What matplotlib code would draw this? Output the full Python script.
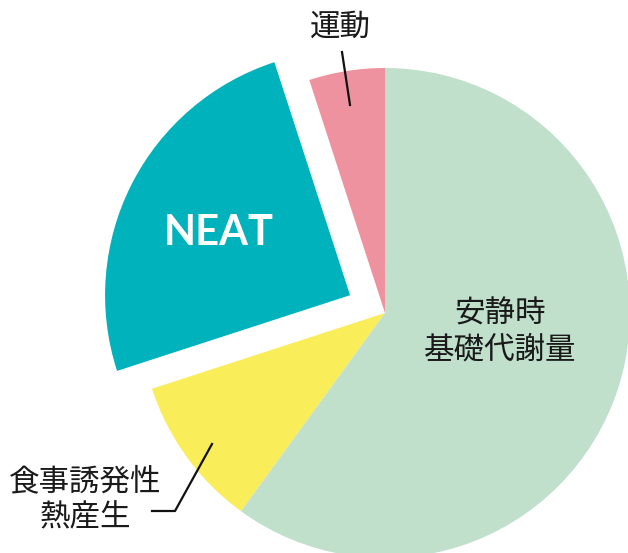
import matplotlib
matplotlib.use("Agg")
import matplotlib.pyplot as plt

plt.rcParams['font.family'] = ['Noto Sans CJK JP', 'DejaVu Sans']

labels = ["運動", "NEAT", "食事誘発性\n熱産生", "安静時\n基礎代謝量"]
values = [5, 25, 10, 60]
colors = ["#ef929f", "#00b2bb", "#f9ed5a", "#c0e0cc"]
explode = [0, 0.16, 0, 0]

W, H = 628, 553
fig = plt.figure(figsize=(W / 100, H / 100), dpi=100)
ax = fig.add_axes([0, 0, 1, 1])
R = 245.0
cx, cy = 385.0, 313.0

ax.pie(values, colors=colors, startangle=90, counterclock=True,
       explode=explode, radius=1.0, center=(0, 0), frame=True,
       wedgeprops=dict(linewidth=0))
ax.set_xlim(-cx / R, (W - cx) / R)
ax.set_ylim(-(H - cy) / R, cy / R)
ax.set_aspect('equal')
ax.axis('off')

def px(x, y):
    return ((x - cx) / R, (cy - y) / R)

# labels
ax.text(*px(500, 332), labels[3], ha='center', va='center', fontsize=22,
        color='#1a1a1a', linespacing=1.2)
ax.text(*px(219, 233), labels[1], ha='center', va='center', fontsize=30,
        color='white', fontweight='bold', family=['Lato', 'DejaVu Sans'])
ax.text(*px(340, 27), labels[0], ha='center', va='center', fontsize=22,
        color='#1a1a1a')
ax.text(*px(85, 500), labels[2], ha='center', va='center', fontsize=22,
        color='#1a1a1a', linespacing=1.2)

# leader lines
x0, y0 = px(342, 52)
x1, y1 = px(350, 105)
ax.plot([x0, x1], [y0, y1], color='#111111', lw=1.6)
p = [px(152, 511), px(175, 511), px(212, 444)]
ax.plot([q[0] for q in p], [q[1] for q in p], color='#111111', lw=1.6)

fig.savefig("out.png", dpi=100)
